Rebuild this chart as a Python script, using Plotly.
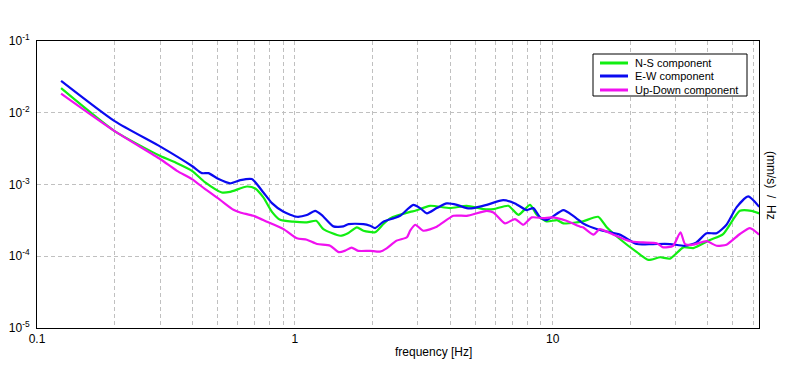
import plotly.graph_objects as go

# ---- data (frequency in Hz, amplitude in (mm/s)/Hz) ----
ns_freq = [0.124, 0.200, 0.301, 0.349, 0.399, 0.449, 0.521, 0.561, 0.652, 0.702, 0.755,
           0.815, 0.877, 0.988, 1.113, 1.21, 1.29, 1.50, 1.614, 1.74, 1.845, 2.048, 2.205,
           2.34, 2.80, 2.93, 3.34, 4.00, 4.64, 5.38, 5.89, 6.73, 7.36, 8.17, 8.67, 9.48,
           10.4, 11.0, 12.4, 13.1, 15.0, 16.2, 18.2, 21.2, 23.5, 26.1, 28.5, 32.1, 35.1,
           40.7, 45.8, 53.2, 59.0, 63.2]
ns_vals = [0.0220, 0.00555, 0.00249, 0.00198, 0.00155, 0.00107, 0.000774, 0.000789,
           0.000938, 0.000880, 0.000660, 0.000416, 0.000322, 0.000303, 0.000297, 0.000312,
           0.000239, 0.000193, 0.000211, 0.000253, 0.000227, 0.000216, 0.000281, 0.000337,
           0.000416, 0.000430, 0.000505, 0.000469, 0.000505, 0.000454, 0.000454, 0.000505,
           0.000378, 0.000521, 0.000378, 0.000306, 0.000319, 0.000287, 0.000297, 0.000306,
           0.000355, 0.000253, 0.000174, 0.000114, 0.0000889, 0.0000968, 0.0000926,
           0.000133, 0.000130, 0.000168, 0.000204, 0.000430, 0.000430, 0.000396]

ew_freq = [0.124, 0.200, 0.301, 0.399, 0.436, 0.462, 0.506, 0.561, 0.614, 0.681, 0.755,
           0.815, 0.904, 1.018, 1.113, 1.198, 1.273, 1.411, 1.542, 1.614, 1.845, 1.958,
           2.048, 2.205, 2.41, 2.56, 2.88, 3.06, 3.25, 3.55, 3.88, 4.25, 4.64, 4.92, 5.55,
           6.43, 7.14, 7.93, 8.41, 8.93, 9.48, 11.0, 12.0, 12.8, 13.1, 15.2, 18.2, 21.2,
           24.5, 28.5, 32.6, 36.1, 39.5, 43.2, 47.2, 51.6, 57.3, 63.2]
ew_vals = [0.0278, 0.00764, 0.00337, 0.00181, 0.00144, 0.00144, 0.00119, 0.00104,
           0.00115, 0.00119, 0.000774, 0.000550, 0.000416, 0.000355, 0.000375, 0.000430,
           0.000375, 0.000261, 0.000261, 0.000281, 0.000281, 0.000266, 0.000247, 0.000303,
           0.000337, 0.000366, 0.000521, 0.000469, 0.000396, 0.000469, 0.000545, 0.000521,
           0.000469, 0.000469, 0.000521, 0.000605, 0.000545, 0.000440, 0.000469, 0.000348,
           0.000319, 0.000440, 0.000366, 0.000306, 0.000287, 0.000232, 0.000200, 0.000148,
           0.000148, 0.000148, 0.000140, 0.000156, 0.000209, 0.000209, 0.000275, 0.000480,
           0.000682, 0.000489]

ud_freq = [0.124, 0.200, 0.301, 0.349, 0.399, 0.449, 0.513, 0.578, 0.614, 0.691, 0.779,
           0.904, 1.018, 1.113, 1.22, 1.37, 1.48, 1.57, 1.66, 1.76, 1.958, 2.14, 2.27,
           2.48, 2.72, 2.80, 2.93, 3.15, 3.55, 4.12, 4.64, 5.55, 5.89, 6.53, 7.14, 7.69,
           8.29, 9.20, 9.91, 11.3, 12.8, 13.1, 14.4, 15.2, 17.2, 19.9, 22.4, 25.3, 26.8,
           29.3, 31.3, 32.6, 35.1, 39.5, 43.2, 47.2, 53.2, 58.2, 63.2]
ud_vals = [0.0185, 0.00555, 0.00225, 0.00155, 0.00119, 0.000861, 0.000611, 0.000444,
           0.000408, 0.000366, 0.000303, 0.000239, 0.000178, 0.000170, 0.000148, 0.000140,
           0.000114, 0.000120, 0.000132, 0.000119, 0.000119, 0.000116, 0.000129, 0.000165,
           0.000184, 0.000227, 0.000275, 0.000227, 0.000258, 0.000366, 0.000366, 0.000430,
           0.000408, 0.000287, 0.000330, 0.000275, 0.000348, 0.000340, 0.000348, 0.000312,
           0.000258, 0.000253, 0.000200, 0.000239, 0.000200, 0.000162, 0.000156, 0.000152,
           0.000133, 0.000140, 0.000216, 0.000148, 0.000145, 0.000162, 0.000140, 0.000145,
           0.000204, 0.000247, 0.000200]

series_names = ["N-S component", "E-W component", "Up-Down component"]
series_colors = ["#11ee11", "#0a0af0", "#f011f0"]

x_grid_vals = [m * 10 ** e for e in (-1, 0, 1) for m in range(1, 10)]
x_grid_vals = [v for v in x_grid_vals if v <= 63]
x_labels = {0.1: "0.1", 1: "1", 10: "10"}
y_tick_vals = [1e-5, 1e-4, 1e-3, 1e-2, 1e-1]
y_tick_text = ["10<sup>-5</sup>", "10<sup>-4</sup>", "10<sup>-3</sup>",
               "10<sup>-2</sup>", "10<sup>-1</sup>"]

FONT = "Liberation Sans, Arial, sans-serif"
OFF = 8                       # default page body margin
W, H = 796 - 2 * OFF, 370 - 2 * OFF
# plot area in page pixels: x 37..759, y 41..328
ML, MT = 37 - OFF, 41 - OFF
MR, MB = W - (759 - OFF), H - (328 - OFF)
PW, PH = W - ML - MR, H - MT - MB


def px(xp):
    return (xp - OFF - ML) / PW


def py(yp):
    return 1 - (yp - OFF - MT) / PH


fig = go.Figure()
for fx, fy, name, col in zip([ns_freq, ew_freq, ud_freq], [ns_vals, ew_vals, ud_vals],
                             series_names, series_colors):
    fig.add_trace(go.Scatter(x=fx, y=fy, mode="lines", name=name, showlegend=False,
                             line=dict(color=col, width=2.2, shape="spline", smoothing=0.6)))

# legend drawn as a compact box like the reference
shapes = [dict(type="rect", xref="paper", yref="paper", x0=px(593), x1=px(747),
               y0=py(96), y1=py(54), line=dict(color="black", width=1),
               fillcolor="white", layer="above")]
annotations = []
row_y = [63, 76, 90]
for name, col, ry in zip(series_names, series_colors, row_y):
    shapes.append(dict(type="line", xref="paper", yref="paper", x0=px(600), x1=px(628),
                       y0=py(ry), y1=py(ry), line=dict(color=col, width=3), layer="above"))
    annotations.append(dict(text=name, x=px(633), y=py(ry), xref="paper", yref="paper",
                            xanchor="left", yanchor="middle", showarrow=False,
                            font=dict(family=FONT, size=11)))

annotations += [
    dict(text="frequency [Hz]", x=px(433), xref="paper", y=py(352), yref="paper",
         xanchor="center", yanchor="middle", showarrow=False,
         font=dict(family=FONT, size=12)),
    dict(text="(mm/s)  /  Hz", x=px(771), xref="paper", y=py(185), yref="paper",
         textangle=90, xanchor="center", yanchor="middle", showarrow=False,
         font=dict(family=FONT, size=12)),
]

fig.update_layout(
    width=W, height=H,
    margin=dict(l=ML, r=MR, t=MT, b=MB, autoexpand=False),
    paper_bgcolor="white", plot_bgcolor="white",
    font=dict(family=FONT, size=12, color="black"),
    showlegend=False,
    xaxis=dict(type="log", range=[-1, 1.8], automargin=False,
               tickmode="array", tickvals=x_grid_vals,
               ticktext=[x_labels.get(round(v, 6), "") for v in x_grid_vals],
               showgrid=True, gridcolor="#c0c0c0", griddash="4px,3px", gridwidth=1,
               showline=True, linecolor="black", linewidth=1, mirror=True,
               ticks="", zeroline=False,
               tickfont=dict(family=FONT, size=12)),
    yaxis=dict(type="log", range=[-5, -1], automargin=False,
               tickmode="array", tickvals=y_tick_vals, ticktext=y_tick_text,
               showgrid=True, gridcolor="#c0c0c0", griddash="4px,3px", gridwidth=1,
               showline=True, linecolor="black", linewidth=1, mirror=True,
               ticks="", zeroline=False, ticklabelstandoff=4,
               tickfont=dict(family=FONT, size=12)),
    shapes=shapes,
    annotations=annotations,
)

fig.write_html("out.html")
